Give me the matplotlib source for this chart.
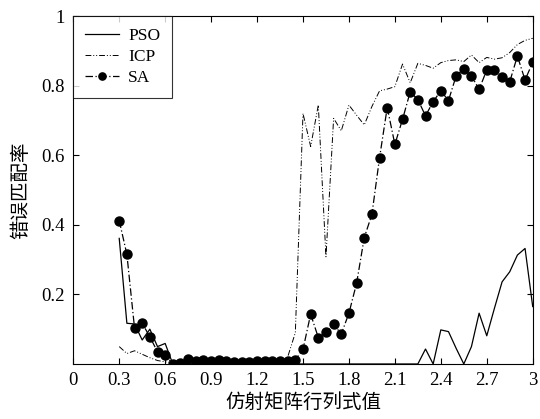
import numpy as np
import matplotlib
matplotlib.use('Agg')
import matplotlib.pyplot as plt

plt.rcParams['font.family'] = ['Liberation Serif', 'Noto Sans CJK SC']
plt.rcParams['axes.unicode_minus'] = False

# 仿射矩阵行列式值 0.30 ~ 3.00, 步长 0.05
x = np.round(np.arange(0.30, 3.001, 0.05), 2)

pso = [0.361, 0.117, 0.115, 0.069, 0.100, 0.050, 0.059, 0.000,
       0.000, 0.000, 0.000, 0.000, 0.000, 0.000, 0.000, 0.000,
       0.000, 0.000, 0.000, 0.000, 0.000, 0.000, 0.000, 0.000,
       0.000, 0.000, 0.000, 0.000, 0.000, 0.000, 0.000, 0.000,
       0.000, 0.000, 0.000, 0.000, 0.000, 0.000, 0.000,
       0.000, 0.043, 0.000, 0.098, 0.093, 0.045, 0.000, 0.050,
       0.146, 0.081, 0.160, 0.236, 0.265, 0.313, 0.332, 0.165]

icp = [0.050, 0.030, 0.038, 0.028, 0.018, 0.010, 0.006, 0.004,
       0.004, 0.005, 0.003, 0.004, 0.005, 0.003, 0.004, 0.003,
       0.004, 0.005, 0.003, 0.004, 0.004, 0.006,
       0.020, 0.090, 0.720, 0.625, 0.744, 0.308, 0.706, 0.670,
       0.744, 0.715, 0.687, 0.740, 0.785, 0.790, 0.797, 0.862, 0.808,
       0.864, 0.858, 0.850, 0.866, 0.872, 0.874, 0.869, 0.888,
       0.866, 0.881, 0.876, 0.880, 0.895, 0.918, 0.930, 0.936]

sa = [0.412, 0.315, 0.103, 0.117, 0.078, 0.035, 0.026, 0.000,
      0.004, 0.014, 0.010, 0.012, 0.008, 0.012, 0.009, 0.005,
      0.006, 0.005, 0.009, 0.008, 0.010, 0.008, 0.009, 0.012,
      0.042, 0.143, 0.076, 0.091, 0.114, 0.086, 0.146, 0.232,
      0.363, 0.430, 0.593, 0.737, 0.631, 0.703, 0.782,
      0.760, 0.713, 0.754, 0.785, 0.757, 0.828, 0.849, 0.828,
      0.789, 0.845, 0.845, 0.826, 0.811, 0.885, 0.816, 0.867]

xticks = [0, 0.3, 0.6, 0.9, 1.2, 1.5, 1.8, 2.1, 2.4, 2.7, 3]
xticklabels = ['0', '0.3', '0.6', '0.9', '1.2', '1.5', '1.8', '2.1', '2.4', '2.7', '3']
yticks = [0.2, 0.4, 0.6, 0.8, 1]
yticklabels = ['0.2', '0.4', '0.6', '0.8', '1']

fig = plt.figure(figsize=(5.4, 4.19), dpi=100)
ax = fig.add_axes([0.1357, 0.1313, 0.8508, 0.8305])

ax.plot(x, pso, color='black', lw=0.9, label='PSO')
ax.plot(x, icp, color='black', lw=0.7, ls=(0, (6, 2, 1, 2, 1, 2)), label='ICP')
ax.plot(x, sa, color='black', lw=0.9, ls=(0, (6, 2, 1, 2)),
        marker='o', markersize=6.5, label='SA')

ax.set_xlim(0, 3)
ax.set_ylim(0, 1)
ax.set_xticks(xticks)
ax.set_xticklabels(xticklabels)
ax.set_yticks(yticks)
ax.set_yticklabels(yticklabels)
ax.tick_params(direction='in', top=True, right=True, length=4, width=0.8,
               labelsize=13.5, pad=6)
for s in ax.spines.values():
    s.set_linewidth(0.8)

ax.set_xlabel('仿射矩阵行列式值', fontsize=14, labelpad=3)
ax.set_ylabel('错误匹配率', fontsize=14, labelpad=8)

leg = ax.legend(loc='upper left', fontsize=12.5, frameon=True, fancybox=False,
                borderaxespad=0, handlelength=1.95, handletextpad=0.5,
                labelspacing=0.28, borderpad=0.7, markerscale=0.8)
leg.get_frame().set_edgecolor('black')
leg.get_frame().set_linewidth(0.8)

fig.savefig('out.png', dpi=100)
